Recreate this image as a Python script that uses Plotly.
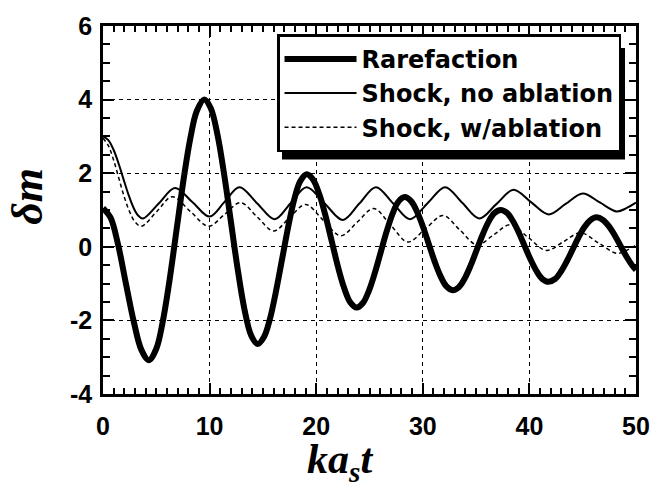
import plotly.graph_objects as go

# ---- data ----
rare_x = [0, 0.7, 1.4, 2.15, 2.9, 3.6, 4.3, 5.0, 5.6, 6.2, 6.9, 7.6, 8.2, 8.8, 9.5,
          10.1, 10.75, 11.4, 12.0, 12.6, 13.25, 13.9, 14.5, 15.1, 15.65, 16.2, 16.8,
          17.4, 17.95, 18.5, 19.1, 19.7, 20.3, 20.85, 21.45, 22.05, 22.6, 23.2, 23.8,
          24.4, 24.95, 25.5, 26.05, 26.6, 27.15, 27.7, 28.3, 28.9, 29.45, 30.0, 30.55,
          31.1, 31.65, 32.2, 32.8, 33.4, 33.95, 34.5, 35.05, 35.6, 36.15, 36.7, 37.3,
          37.9, 38.45, 39.0, 39.55, 40.1, 40.65, 41.2, 41.8, 42.4, 42.95, 43.5, 44.05,
          44.6, 45.15, 45.7, 46.3, 46.9, 47.45, 48.0, 48.55, 49.1, 49.65, 50.0]
rare_y = [1.05, 0.80, 0.08, -1.0, -2.05, -2.80, -3.08, -2.77, -2.04, -0.99, 0.46, 1.91,
          2.96, 3.69, 4.0, 3.77, 3.03, 1.90, 0.68, -0.54, -1.67, -2.41, -2.64, -2.45,
          -1.97, -1.25, -0.335, 0.58, 1.30, 1.78, 1.97, 1.83, 1.42, 0.87, 0.16, -0.55,
          -1.10, -1.51, -1.65, -1.52, -1.19, -0.71, -0.15, 0.41, 0.89, 1.22, 1.35, 1.24,
          0.96, 0.56, 0.085, -0.39, -0.79, -1.07, -1.18, -1.09, -0.85, -0.50, -0.09,
          0.32, 0.67, 0.91, 1.0, 0.92, 0.70, 0.39, 0.025, -0.34, -0.65, -0.87, -0.95,
          -0.875, -0.68, -0.40, -0.075, 0.25, 0.53, 0.72, 0.8, 0.73, 0.56, 0.315, 0.025,
          -0.265, -0.51, -0.63]

shock_x = [0, 0.5, 1.0, 1.5, 1.9, 2.4, 2.9, 3.3, 3.75, 5.25, 6.75, 8.4, 10.0, 11.4,
           12.8, 14.45, 16.1, 17.6, 19.1, 20.8, 22.5, 24.05, 25.6, 27.2, 28.8, 30.45,
           32.1, 33.7, 35.3, 36.9, 38.5, 40.15, 41.8, 43.4, 45.0, 46.6, 48.2, 49.1, 50.0]
shock_y = [3.0, 2.9, 2.63, 2.23, 1.86, 1.41, 1.04, 0.85, 0.77, 1.185, 1.60, 1.21, 0.82,
           1.22, 1.62, 1.185, 0.75, 1.185, 1.62, 1.175, 0.73, 1.175, 1.62, 1.185, 0.75,
           1.185, 1.62, 1.195, 0.77, 1.16, 1.55, 1.215, 0.88, 1.165, 1.45, 1.205, 0.96,
           1.05, 1.2]

abl_x = [0, 0.5, 1.0, 1.5, 2.0, 2.5, 3.0, 3.6, 5.05, 6.5, 8.2, 9.9, 11.4, 12.9, 14.45,
         16.0, 17.5, 19.0, 20.65, 22.3, 23.85, 25.4, 27.0, 28.6, 30.25, 31.9, 33.5,
         35.1, 36.65, 38.2, 39.9, 41.6, 43.2, 44.8, 46.5, 48.2, 49.1, 50.0]
abl_y = [2.95, 2.75, 2.35, 1.85, 1.35, 0.95, 0.68, 0.56, 0.96, 1.36, 0.96, 0.56, 0.88,
         1.2, 0.815, 0.43, 0.79, 1.15, 0.725, 0.3, 0.67, 1.04, 0.585, 0.13, 0.49, 0.85,
         0.45, 0.05, 0.325, 0.6, 0.25, -0.1, 0.14, 0.38, 0.1, -0.18, -0.1, 0.05]

names = ["Rarefaction", "Shock, no ablation", "Shock, w/ablation"]
x_ticks = [0, 10, 20, 30, 40, 50]
x_labels = ["0", "10", "20", "30", "40", "50"]
y_ticks = [-4, -2, 0, 2, 4, 6]
y_labels = ["-4", "-2", "0", "2", "4", "6"]
x_minor_step = 1
y_minor_step = 0.5

fig = go.Figure()
fig.add_trace(go.Scatter(x=rare_x, y=rare_y, mode="lines", name=names[0],
                         line=dict(color="black", width=6, shape="spline")))
fig.add_trace(go.Scatter(x=shock_x, y=shock_y, mode="lines", name=names[1],
                         line=dict(color="black", width=2, shape="spline")))
fig.add_trace(go.Scatter(x=abl_x, y=abl_y, mode="lines", name=names[2],
                         line=dict(color="black", width=1.5, shape="spline", dash="4px,3px")))

# invisible helper traces so that each overlay axis pair gets drawn
for k in range(2, 7):
    fig.add_trace(go.Scatter(x=[x_ticks[0], x_ticks[-1]], y=[y_ticks[0], y_ticks[-1]],
                             mode="markers", xaxis=f"x{k}", yaxis=f"y{k}",
                             marker=dict(opacity=0, size=1), showlegend=False,
                             hoverinfo="skip"))

tickfont = dict(family="Liberation Sans, Arial", size=25, color="black", weight="bold")


def tick_axis(base, side, anchor, rng, length, width, vals=None, step=None):
    d = dict(overlaying=base, side=side, anchor=anchor, range=rng,
             ticks="inside", ticklen=length, tickwidth=width, tickcolor="black",
             showticklabels=False, showgrid=False, zeroline=False, showline=False)
    if vals is not None:
        d.update(tickmode="array", tickvals=vals)
    else:
        d.update(tickmode="linear", tick0=rng[0], dtick=step)
    return d


xr = [x_ticks[0], x_ticks[-1]]
yr = [y_ticks[0], y_ticks[-1]]

fig.update_layout(
    # main axes: frame and tick labels
    xaxis=dict(range=xr, tickmode="array", tickvals=x_ticks, ticktext=x_labels,
               showline=True, linecolor="black", linewidth=2.5, mirror=True,
               ticks="", showgrid=False, zeroline=False, tickfont=tickfont,
               ticklabelstandoff=8),
    yaxis=dict(range=yr, tickmode="array", tickvals=y_ticks, ticktext=y_labels,
               showline=True, linecolor="black", linewidth=2.5, mirror=True,
               ticks="", showgrid=False, zeroline=False, tickfont=tickfont,
               ticklabelstandoff=3),
    # major ticks bottom / left
    xaxis2=tick_axis("x", "bottom", "y", xr, 11, 2, vals=x_ticks),
    yaxis2=tick_axis("y", "left", "x", yr, 11, 2, vals=y_ticks),
    # minor ticks bottom / left
    xaxis3=tick_axis("x", "bottom", "y", xr, 6, 1.5, step=x_minor_step),
    yaxis3=tick_axis("y", "left", "x", yr, 7, 1.5, step=y_minor_step),
    # major ticks top / right
    xaxis4=tick_axis("x", "top", "y", xr, 11, 2, vals=x_ticks),
    yaxis4=tick_axis("y", "right", "x", yr, 11, 2, vals=y_ticks),
    # minor ticks top / right
    xaxis5=tick_axis("x", "top", "y", xr, 6, 1.5, step=x_minor_step),
    yaxis5=tick_axis("y", "right", "x", yr, 7, 1.5, step=y_minor_step),
    # dashed grid
    xaxis6=dict(overlaying="x", anchor="y", range=xr, tickmode="array", tickvals=x_ticks,
                ticks="", showticklabels=False, zeroline=False, showline=False,
                showgrid=True, gridcolor="black", gridwidth=1.2, griddash="4px,4px"),
    yaxis6=dict(overlaying="y", anchor="x", range=yr, tickmode="array", tickvals=y_ticks,
                ticks="", showticklabels=False, zeroline=False, showline=False,
                showgrid=True, gridcolor="black", gridwidth=1.2, griddash="4px,4px"),
)

leg_w, leg_h = 343, 114
fig.update_layout(
    width=666, height=493,
    margin=dict(l=103, r=30, t=18.5, b=98.5, pad=0),
    plot_bgcolor="white", paper_bgcolor="white",
    showlegend=True,
    legend=dict(x=0.3265, y=0.9775, xanchor="left", yanchor="top",
                bgcolor="white", bordercolor="black", borderwidth=2.5,
                font=dict(family="DejaVu Sans", size=24, color="black", weight="bold"),
                itemwidth=72, tracegroupgap=0),
    shapes=[dict(type="rect", xref="paper", yref="paper",
                 x0=(282 - 103) / 533, x1=(277 + leg_w + 5 - 103) / 533,
                 y0=(394.5 - 36 - leg_h - 5) / 376, y1=(394.5 - 41) / 376,
                 fillcolor="black", line=dict(width=0), layer="above")],
    annotations=[
        dict(text="<b><i>δm</i></b>", xref="paper", yref="paper",
             x=(28 - 103) / 533, y=(394.5 - 193) / 376, showarrow=False, textangle=-90,
             xanchor="center", yanchor="middle",
             font=dict(family="Liberation Serif", size=44, color="black")),
        dict(text="<b><i>ka<sub>s</sub>t</i></b>", xref="paper", yref="paper",
             x=(340 - 103) / 533, y=(394.5 - 464) / 376, showarrow=False,
             xanchor="center", yanchor="middle",
             font=dict(family="Liberation Serif", size=42, color="black")),
    ],
)

fig.write_html("out.html")
